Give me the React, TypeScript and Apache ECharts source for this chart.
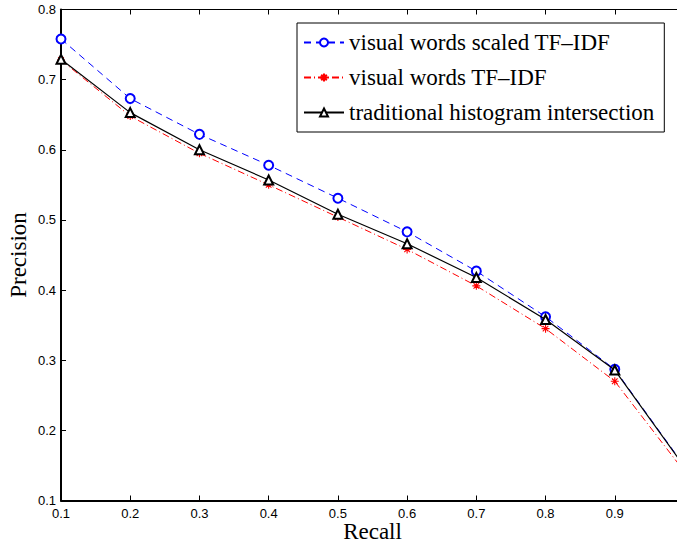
import React, { useEffect, useRef } from 'react';
import * as echarts from 'echarts';

const recall = [0.1, 0.2, 0.3, 0.4, 0.5, 0.6, 0.7, 0.8, 0.9, 1.0];
const scaledTfIdf = [0.758, 0.673, 0.622, 0.578, 0.531, 0.483, 0.427, 0.362, 0.287, 0.15];
const tfIdf = [0.728, 0.648, 0.595, 0.55, 0.504, 0.458, 0.406, 0.345, 0.27, 0.142];
const histIntersection = [0.729, 0.653, 0.6, 0.557, 0.508, 0.466, 0.418, 0.358, 0.286, 0.149];
const seriesNames = [
  'visual words scaled TF\u2013IDF',
  'visual words TF\u2013IDF',
  'traditional histogram intersection',
];

const STAR = 'path://M0,-5L0,5M-5,0L5,0M-3.5,-3.5L3.5,3.5M-3.5,3.5L3.5,-3.5';

const pairs = (ys: number[]) => recall.map((x, i) => [x, ys[i]]);

export default function App() {
  const ref = useRef<HTMLDivElement>(null);
  useEffect(() => {
    if (!ref.current) return;
    const chart = echarts.init(ref.current, undefined, { renderer: 'svg' });
    const axisFont = { fontFamily: 'Liberation Sans, Arial, sans-serif', fontSize: 13, color: '#000' };
    const serif = 'Liberation Serif, Times New Roman, serif';
    chart.setOption({
      animation: false,
      backgroundColor: '#fff',
      grid: {
        left: 61,
        top: 9.5,
        right: -7,
        bottom: 40.5,
        containLabel: false,
        outerBoundsMode: 'none',
      },
      xAxis: [
        {
          type: 'value',
          min: 0.1,
          max: 1.0,
          interval: 0.1,
          name: 'Recall',
          nameLocation: 'middle',
          nameGap: 21.5,
          nameMoveOverlap: false,
          nameTextStyle: { fontFamily: serif, fontSize: 23, lineHeight: 18, color: '#000' },
          axisLine: { show: true, lineStyle: { color: '#000', width: 2 } },
          axisTick: { show: true, inside: true, length: 5, lineStyle: { color: '#000', width: 1 } },
          axisLabel: {
            ...axisFont,
            margin: 6,
            formatter: (v: number) => (v > 0.95 ? '' : v.toFixed(1)),
          },
          splitLine: { show: false },
        },
        {
          type: 'value',
          position: 'top',
          min: 0.1,
          max: 1.0,
          interval: 0.1,
          axisLine: { show: true, lineStyle: { color: '#000', width: 1 } },
          axisTick: { show: true, inside: true, length: 5, lineStyle: { color: '#000', width: 1 } },
          axisLabel: { show: false },
          splitLine: { show: false },
        },
      ],
      yAxis: {
        type: 'value',
        min: 0.1,
        max: 0.8,
        interval: 0.1,
        name: 'Precision',
        nameLocation: 'middle',
        nameGap: 31,
        nameMoveOverlap: false,
        nameTextStyle: { fontFamily: serif, fontSize: 23, color: '#000' },
        axisLine: { show: true, lineStyle: { color: '#000', width: 2 } },
        axisTick: { show: true, inside: true, length: 5, lineStyle: { color: '#000', width: 1 } },
        axisLabel: { ...axisFont, margin: 5, formatter: (v: number) => v.toFixed(1) },
        splitLine: { show: false },
      },
      legend: {
        orient: 'vertical',
        left: 297,
        top: 23,
        padding: [8, 10, 8, 6],
        itemWidth: 40,
        itemHeight: 10,
        itemGap: 12,
        borderColor: '#000',
        borderWidth: 1,
        backgroundColor: '#fff',
        textStyle: { fontFamily: serif, fontSize: 23, color: '#000' },
        data: seriesNames,
      },
      series: [
        {
          name: seriesNames[0],
          type: 'line',
          data: pairs(scaledTfIdf),
          symbol: 'emptyCircle',
          symbolSize: 9,
          lineStyle: { color: '#0000ff', width: 1, type: [7, 5] },
          itemStyle: { color: '#0000ff', borderColor: '#0000ff', borderWidth: 1.1 },
          z: 2,
        },
        {
          name: seriesNames[1],
          type: 'line',
          data: pairs(tfIdf),
          symbol: STAR,
          symbolSize: 8,
          lineStyle: { color: '#ff0000', width: 1, type: [7, 3, 1, 3] },
          itemStyle: { color: '#ff0000', borderColor: '#ff0000', borderWidth: 1.1 },
          z: 3,
        },
        {
          name: seriesNames[2],
          type: 'line',
          data: pairs(histIntersection),
          symbol: 'emptyTriangle',
          symbolSize: 9,
          lineStyle: { color: '#000', width: 1.2, type: 'solid' },
          itemStyle: { color: '#000', borderColor: '#000', borderWidth: 1.1 },
          z: 4,
        },
      ],
    });
    return () => chart.dispose();
  }, []);
  return (
    <div
      ref={ref}
      style={{ position: 'fixed', left: 0, top: 0, width: 677, height: 541, background: '#fff' }}
    />
  );
}
